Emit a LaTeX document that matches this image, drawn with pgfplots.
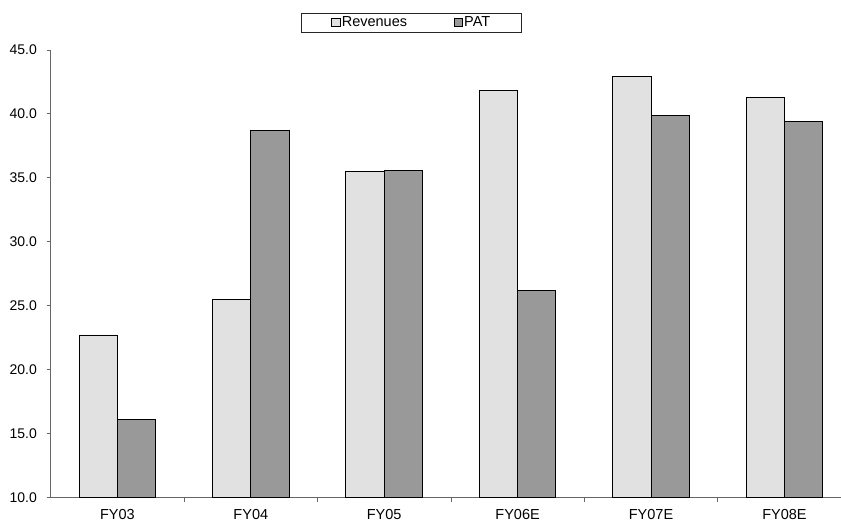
\documentclass[border=0pt]{standalone}
\usepackage{fontspec}
\setmainfont{Liberation Sans}
\usepackage{pgfplots}
\pgfplotsset{compat=1.18}
\definecolor{revc}{HTML}{E1E1E1}
\definecolor{patc}{HTML}{999999}
\definecolor{axc}{HTML}{666666}
\begin{document}
\fontsize{14bp}{16bp}\selectfont
\begin{tikzpicture}
\begin{axis}[
  name=ax,
  scale only axis,
  width=790.3bp, height=447.3bp,
  xmin=-0.5, xmax=5.424,
  ymin=10, ymax=45,
  axis x line=bottom, axis y line=left,
  axis line style={-, draw=axc, line width=0.9bp},
  ybar=0pt, bar width=38.3bp,
  tick align=outside,
  major tick length=4bp,
  ytick={10,15,20,25,30,35,40,45},
  ytick style={draw=axc, line width=0.8bp},
  /pgf/number format/assume math mode=true,
  yticklabel style={/pgf/number format/.cd, fixed, fixed zerofill, precision=1, /tikz/.cd, xshift=-5bp, font=\fontsize{14bp}{16bp}\selectfont},
  xtick={0,1,2,3,4,5},
  xticklabels={FY03,FY04,FY05,FY06E,FY07E,FY08E},
  xtick style={draw=none},
  xticklabel style={inner ysep=0bp, yshift=-8bp, font=\fontsize{14.5bp}{16bp}\selectfont},
  extra x ticks={0.5,1.5,2.5,3.5,4.5},
  extra x tick labels={},
  extra x tick style={xtick style={draw=axc, line width=0.8bp}, major tick length=5bp},
  legend columns=2,
  legend style={at={(0.4565,1.0615)}, anchor=center, draw=black!85, line width=0.8bp,
    inner xsep=30bp, inner ysep=2.5bp,
    nodes={inner xsep=1.5bp, inner ysep=1bp},
    font=\fontsize{14.5bp}{16bp}\selectfont,
    /tikz/every even column/.append style={column sep=45bp}},
  legend image code/.code={\draw[#1, line width=0.6bp] (0bp,-4bp) rectangle (8.5bp,4.5bp);},
]
\addplot[fill=revc, draw=black, line width=0.9bp] coordinates {(0,22.7) (1,25.5) (2,35.5) (3,41.8) (4,42.9) (5,41.3)};
\addlegendentry{Revenues}
\addplot[fill=patc, draw=black, line width=0.9bp] coordinates {(0,16.1) (1,38.7) (2,35.6) (3,26.2) (4,39.9) (5,39.4)};
\addlegendentry{PAT}
\end{axis}
\pgfresetboundingbox
\path[use as bounding box] ([shift={(-50.7bp,-25.7bp)}]ax.south west) rectangle ++(841bp,523bp);
\end{tikzpicture}
\end{document}
